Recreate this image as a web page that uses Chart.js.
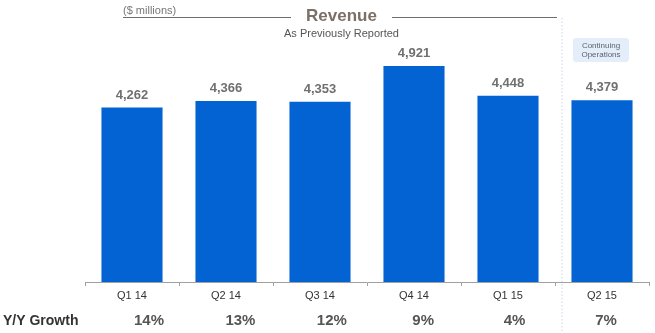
<!DOCTYPE html>
<html>
<head>
<meta charset="utf-8">
<script src="https://cdn.jsdelivr.net/npm/chart.js@4/dist/chart.umd.min.js"></script>
<style>
html,body{margin:0;padding:0;background:#fff;}
canvas{display:block;}
</style>
</head>
<body>
<canvas id="c" width="655" height="333"></canvas>
<script>
const categories = ["Q1 14", "Q2 14", "Q3 14", "Q4 14", "Q1 15", "Q2 15"];
const revenue = [4262, 4366, 4353, 4921, 4448, 4379];
const growth = ["14%", "13%", "12%", "9%", "4%", "7%"];
const titleText = "Revenue";
const subtitleText = "As Previously Reported";
const unitText = "($ millions)";
const noteLines = ["Continuing", "Operations"];
const growthLabel = "Y/Y Growth";

const FONT = "'Liberation Sans', Arial, sans-serif";

const overlay = {
  id: 'overlay',
  afterDatasetsDraw(chart) {
    const ctx = chart.ctx;
    const meta = chart.getDatasetMeta(0);
    const xs = chart.scales.x;
    ctx.save();
    // value labels
    ctx.font = "bold 13px " + FONT;
    ctx.fillStyle = "#707070";
    ctx.textAlign = "center";
    ctx.textBaseline = "middle";
    meta.data.forEach((bar, i) => {
      ctx.fillText(revenue[i].toLocaleString('en-US'), bar.x, bar.y - 12.5);
    });

    // title lines
    ctx.strokeStyle = "#6f6f6f";
    ctx.lineWidth = 1;
    ctx.beginPath();
    ctx.moveTo(123, 17.5); ctx.lineTo(291, 17.5);
    ctx.moveTo(392, 17.5); ctx.lineTo(557, 17.5);
    ctx.stroke();

    ctx.font = "11px " + FONT;
    ctx.fillStyle = "#777";
    ctx.textAlign = "left";
    ctx.fillText(unitText, 123, 10.5);

    ctx.font = "bold 17px " + FONT;
    ctx.fillStyle = "#7b7068";
    ctx.textAlign = "center";
    ctx.fillText(titleText, 341.5, 16.5);

    ctx.font = "11px " + FONT;
    ctx.fillStyle = "#555";
    ctx.fillText(subtitleText, 341.5, 33.5);

    // dotted separator between last two categories
    const sepX = (xs.getPixelForValue(4) + xs.getPixelForValue(5)) / 2 + 7;
    ctx.strokeStyle = "#c9d6ea";
    ctx.setLineDash([1.5, 2]);
    ctx.beginPath();
    ctx.moveTo(sepX, 18); ctx.lineTo(sepX, 333);
    ctx.stroke();
    ctx.setLineDash([]);

    // note box
    const bx = 573, by = 38, bw = 56, bh = 24;
    ctx.fillStyle = "#e4eefa";
    ctx.beginPath();
    ctx.roundRect(bx, by, bw, bh, 3);
    ctx.fill();
    ctx.font = "8px " + FONT;
    ctx.fillStyle = "#5a6370";
    ctx.fillText(noteLines[0], bx + bw / 2, 45.5);
    ctx.fillText(noteLines[1], bx + bw / 2, 54.5);

    // growth row
    ctx.font = "bold 14px " + FONT;
    ctx.fillStyle = "#333";
    ctx.textAlign = "left";
    ctx.fillText(growthLabel, 3, 321);
    ctx.font = "bold 15px " + FONT;
    ctx.fillStyle = "#555";
    ctx.textAlign = "center";
    growth.forEach((g, i) => {
      const x = xs.getPixelForValue(i) + 17 - 2.6 * i;
      ctx.fillText(g, x, 321);
    });
    ctx.restore();
  }
};

new Chart(document.getElementById('c'), {
  type: 'bar',
  data: {
    labels: categories,
    datasets: [{
      data: revenue,
      backgroundColor: '#0363d3',
      borderWidth: 0,
      categoryPercentage: 1,
      barPercentage: 0.65
    }]
  },
  options: {
    responsive: false,
    devicePixelRatio: 1,
    animation: false,
    layout: { padding: { left: 85, right: 6, top: 61, bottom: 0 } },
    plugins: {
      legend: { display: false },
      tooltip: { enabled: false },
      title: { display: false }
    },
    scales: {
      y: { display: false, min: 1500, max: 5000 },
      x: {
        offset: true,
        afterFit(scale) { scale.height = 51; },
        border: { display: true, color: '#a0a0a0', width: 1 },
        grid: {
          offset: true,
          drawOnChartArea: false,
          drawTicks: true,
          tickLength: 4,
          color: '#a0a0a0'
        },
        ticks: {
          padding: 3,
          color: '#333',
          font: { family: FONT, size: 11 }
        }
      }
    }
  },
  plugins: [overlay]
});
</script>
</body>
</html>
